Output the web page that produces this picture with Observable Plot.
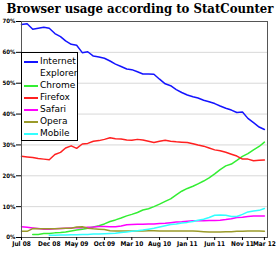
<!DOCTYPE html>
<html><head><meta charset="utf-8">
<script src="https://cdn.jsdelivr.net/npm/d3@7"></script>
<script src="https://cdn.jsdelivr.net/npm/@observablehq/plot@0.6"></script>
<style>
body{margin:0;background:#fff;width:280px;height:254px;overflow:hidden}
#wrap{position:relative;width:280px;height:254px}
#title{height:18px;line-height:18px;font-family:"DejaVu Serif Condensed","DejaVu Serif",serif;font-weight:bold;font-size:13px;text-align:center;white-space:nowrap;color:#000}
#legend{position:absolute;left:21px;top:52px;width:55px;border:1px solid #000;background:#fff;font-family:"DejaVu Sans",sans-serif;font-size:9px;line-height:12px;padding:2px 0 1px 0;color:#000}
.it{display:flex;align-items:flex-start}
.sw{width:14px;height:1.5px;margin:6px 2px 0 2px;flex:none}
svg text{fill:#000}
</style></head>
<body><div id="wrap"><div id="title">Browser usage according to StatCounter</div><div id="chart"></div><div id="legend"></div></div>
<script>
const months = ["2008-07","2008-08","2008-09","2008-10","2008-11","2008-12","2009-01","2009-02","2009-03","2009-04","2009-05","2009-06","2009-07","2009-08","2009-09","2009-10","2009-11","2009-12","2010-01","2010-02","2010-03","2010-04","2010-05","2010-06","2010-07","2010-08","2010-09","2010-10","2010-11","2010-12","2011-01","2011-02","2011-03","2011-04","2011-05","2011-06","2011-07","2011-08","2011-09","2011-10","2011-11","2011-12","2012-01","2012-02","2012-03"];
const seriesNames = ["Internet Explorer","Chrome","Firefox","Safari","Opera","Mobile"];
const seriesColors = ["#1414ff","#33ee33","#ff2020","#ff00ff","#9a9a2a","#33ffff"];
const ie = [69.0,69.3,67.5,67.8,68.1,67.8,66.1,65.1,63.7,62.6,62.3,59.9,60.2,58.8,58.5,58.1,57.2,56.2,55.4,54.6,54.4,53.7,53.0,53.0,52.9,51.3,49.8,49.2,47.9,47.0,46.2,45.6,45.2,44.5,44.0,43.4,42.6,41.9,41.3,40.5,40.7,38.6,37.2,35.8,35.0];
const chrome = [null,null,1.0,1.0,1.3,1.3,1.5,1.6,1.8,2.1,2.4,2.7,3.0,3.4,3.8,4.4,5.2,5.7,6.3,7.0,7.5,8.1,8.9,9.3,10.0,10.8,11.7,12.5,13.8,15.0,15.9,16.6,17.4,18.3,19.3,20.6,22.0,23.2,23.8,25.0,26.3,27.2,28.4,29.5,30.9];
const firefox = [26.3,26.1,25.9,25.6,25.4,25.2,26.9,27.6,29.0,29.7,28.9,30.3,30.5,31.2,31.4,31.8,32.3,32.0,31.9,31.6,31.5,31.8,31.6,31.2,30.8,31.2,31.5,31.2,31.0,30.9,30.8,30.4,30.0,29.6,29.0,28.4,28.1,27.6,27.0,26.4,25.4,25.4,24.9,25.0,25.1];
const safari = [3.5,3.3,3.1,2.9,2.7,2.7,2.8,2.9,3.0,3.1,3.2,3.2,3.3,3.4,3.6,3.6,3.5,3.5,3.7,4.1,4.2,4.3,4.3,4.4,4.4,4.5,4.6,4.8,5.0,5.1,5.3,5.4,5.4,5.4,5.5,5.5,5.6,5.8,6.1,6.5,6.6,6.8,7.0,7.0,7.0];
const opera = [2.0,2.0,2.9,2.8,2.8,2.8,2.8,2.9,3.0,3.0,3.4,3.5,3.0,2.8,2.7,2.6,2.2,2.1,2.1,2.1,2.1,2.1,2.1,2.2,2.2,2.1,2.1,2.1,2.1,2.1,2.1,2.1,2.0,1.9,1.8,1.8,1.8,1.9,1.9,2.0,2.0,2.1,2.1,2.1,2.0];
const mobile = [null,null,null,null,null,0.7,0.7,0.8,0.8,0.9,0.9,1.0,1.0,1.1,1.1,1.2,1.3,1.4,1.6,1.8,2.0,2.2,2.4,2.7,3.0,3.4,3.8,4.2,4.4,4.7,4.9,5.2,5.6,5.9,6.5,7.2,7.3,7.2,6.8,6.8,7.5,8.3,8.6,8.8,9.4];
const xTicks = ["2008-07","2008-12","2009-05","2009-10","2010-03","2010-08","2011-01","2011-06","2011-11","2012-03"];
const yTicks = [0,10,20,30,40,50,60,70];

const values = [ie, chrome, firefox, safari, opera, mobile];
const parse = d3.utcParse("%Y-%m");
const rows = [];
seriesNames.forEach((name, k) => {
  values[k].forEach((v, i) => { if (v != null) rows.push({date: parse(months[i]), value: v, series: name}); });
});

const plot = Plot.plot({
  width: 280, height: 236,
  marginLeft: 21, marginRight: 13, marginTop: 3, marginBottom: 17,
  style: {fontFamily: "'DejaVu Sans Condensed', 'DejaVu Sans', sans-serif", background: "#fff", overflow: "visible"},
  x: {type: "utc", domain: [parse("2008-07"), new Date(Date.UTC(2012, 2, 18))], label: null},
  y: {domain: [0, 70], label: null},
  color: {domain: seriesNames, range: seriesColors},
  marks: [
    Plot.gridY(yTicks, {stroke: "#d8d8d8", strokeOpacity: 1, strokeWidth: 1}),
    Plot.line(rows, {x: "date", y: "value", z: "series", stroke: "series", strokeWidth: 1.5}),
    Plot.frame({stroke: "#555", strokeWidth: 1}),
    Plot.axisY({ticks: yTicks, tickFormat: d => d + "%", tickSize: 5, tickPadding: 1, fontSize: 6, fontWeight: "bold", stroke: "#000"}),
    Plot.axisX({ticks: xTicks.map(parse), tickFormat: d3.utcFormat("%b %y"), tickSize: 3, tickPadding: 1, fontSize: 6.5, fontWeight: "bold", stroke: "#000"})
  ]
});
document.getElementById("chart").appendChild(plot);

const leg = document.getElementById("legend");
seriesNames.forEach((name, k) => {
  const it = document.createElement("div"); it.className = "it";
  const sw = document.createElement("div"); sw.className = "sw"; sw.style.background = seriesColors[k];
  const tx = document.createElement("div"); tx.innerHTML = name.replace(" ", "<br>");
  it.appendChild(sw); it.appendChild(tx); leg.appendChild(it);
});
</script></body></html>
